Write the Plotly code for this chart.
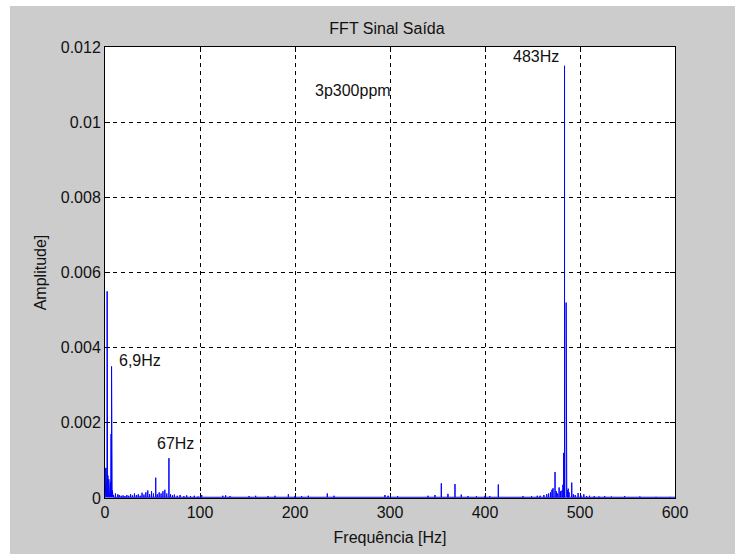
import plotly.graph_objects as go

# ---- data ----
spike_freqs = [
    0.0, 0.25, 0.5, 0.75, 1.0, 1.25, 1.5, 1.75, 2.0, 2.25, 2.5, 2.75, 3.0, 3.25, 3.5,
    3.75, 4.0, 4.25, 4.5, 4.75, 5.0, 5.25, 5.5, 5.75, 6.0, 6.4, 6.6, 6.9, 7.25, 7.5,
    7.75, 8.0, 8.5, 9.0,
    11, 13.5, 15, 17, 19, 21, 23, 25, 27, 29, 31, 33, 35, 37, 39, 41, 43, 45, 47, 49,
    51, 53.4, 55, 57, 59, 61, 63, 65, 67.3, 69, 71, 73, 76, 79, 83, 86, 90, 94, 98,
    101.8, 124, 127, 131.6, 151.6, 158.6, 171.6, 179, 193, 200, 207, 214, 234, 241,
    294.7, 298, 308, 340, 347.4, 354, 361, 368.4, 375, 382, 391, 400, 405, 414, 440,
    449, 455, 458, 462, 465, 467, 469, 470.5, 471.6, 473.7, 475, 476.5, 478, 479.5,
    481, 482, 482.8, 483.7, 485.4, 486.1, 486.8, 487.6, 488.5, 491.3, 493, 495, 498, 501,
    504, 507, 510, 515, 520, 526, 533, 547, 563, 580, 595,
]
spike_amps = [
    0.0008, 0.00078, 0.0008, 0.00075, 0.0008, 0.00072, 0.00078, 0.0008, 0.0007, 0.0055,
    0.00075, 0.0007, 0.0006, 0.0005, 0.00048, 0.00045, 0.0005, 0.00042, 0.0004, 0.00045,
    0.0004, 0.00038, 0.0004, 0.00042, 0.00045, 0.0017, 0.0006, 0.0035, 0.0004, 0.0003,
    0.0002, 0.00015, 0.0001, 0.00008,
    0.00012, 0.0001, 0.00008, 0.00006, 0.00007, 0.00005, 0.00008, 0.00006, 0.0001,
    0.00007, 0.00012, 0.00008, 0.0001, 0.00006, 0.00014, 0.00009, 0.00015, 0.0002,
    0.0001, 0.00018, 0.00012, 0.00054, 0.0001, 0.00015, 0.00012, 0.00018, 0.00022,
    0.00012, 0.00106, 0.0001, 0.00007, 0.00009, 0.00006, 0.00008, 0.00005, 0.00007,
    0.00005, 0.00006, 0.00004,
    0.00008, 0.00006, 0.00007, 0.00005, 0.00005, 0.00006, 0.00005, 0.00006, 0.0001,
    0.00005, 0.00005, 0.00006, 0.00012, 0.00006,
    0.00008, 0.00006, 0.00005, 0.00006, 0.00008, 0.00039, 0.00011, 0.00037, 0.00009,
    0.00005, 0.00005, 0.00006, 0.00005, 0.00036, 0.00005,
    0.00005, 0.00006, 0.00006, 0.00008, 0.0001, 0.00012, 0.00015, 0.00022, 0.00026,
    0.00069, 0.00018, 0.00012, 0.00028, 0.00018,
    0.0002, 0.00035, 0.0012, 0.0115, 0.0052, 0.0004, 0.0002, 0.00025, 0.00015, 0.00041,
    0.0001, 0.00008, 0.00013, 0.00007,
    0.0001, 0.00005, 0.00006, 0.00005, 0.00004, 0.00005, 0.00004, 0.00005, 0.00004,
    0.00003, 0.00003,
]
noise_floor = 0.00002
freq_range = [0, 600]
amp_range = [0, 0.012]
x_ticks = [0, 100, 200, 300, 400, 500, 600]
y_ticks = [0, 0.002, 0.004, 0.006, 0.008, 0.01, 0.012]
y_tick_labels = ["0", "0.002", "0.004", "0.006", "0.008", "0.01", "0.012"]

labels_text = ["483Hz", "3p300ppm", "6,9Hz", "67Hz"]
labels_x = [453.5, 261, 36.5, 74.5]
labels_y = [0.01175, 0.01083, 0.00367, 0.00146]

# ---- build the spectrum path: baseline with vertical spikes ----
xs, ys = [freq_range[0]], [noise_floor]
for f, a in sorted(zip(spike_freqs, spike_amps)):
    xs += [f, f, f]
    ys += [noise_floor, a, noise_floor]
xs.append(freq_range[1])
ys.append(noise_floor)

FONT = "Liberation Sans, Arial, sans-serif"
TXT = "#111111"

fig = go.Figure()
fig.add_trace(go.Scatter(x=xs, y=ys, mode="lines",
                         line=dict(color="#0000ff", width=1), hoverinfo="skip"))

for t, x, y in zip(labels_text, labels_x, labels_y):
    fig.add_annotation(x=x, y=y, text=t, showarrow=False, xanchor="center",
                       yanchor="middle", font=dict(family=FONT, size=16, color=TXT))

W, H = 735, 554
L, R, T, B = 105, 60, 47, 56
pw, ph = W - L - R, H - T - B

# white strips at left and top of the figure window
fig.add_shape(type="rect", xref="paper", yref="paper",
              x0=-L / pw, x1=(10 - L) / pw, y0=-B / ph, y1=(H - B) / ph,
              fillcolor="white", line_width=0, layer="above")
fig.add_shape(type="rect", xref="paper", yref="paper",
              x0=-L / pw, x1=(W - L) / pw, y0=(H - B - 6) / ph, y1=(H - B) / ph,
              fillcolor="white", line_width=0, layer="above")

axis_common = dict(
    showline=True, linecolor="black", linewidth=1, mirror="ticks",
    ticks="inside", ticklen=5, tickcolor="black",
    showgrid=True, gridcolor="black", gridwidth=1, griddash="4px,4px",
    zeroline=False, tickfont=dict(family=FONT, size=16, color=TXT),
)

fig.update_xaxes(range=freq_range, tickvals=x_ticks, layer="below traces",
                 title=dict(text="Frequência [Hz]", standoff=11,
                            font=dict(family=FONT, size=16, color=TXT)),
                 **axis_common)
fig.update_yaxes(range=amp_range, tickvals=y_ticks, ticktext=y_tick_labels,
                 title=dict(text="Amplitude]", standoff=10,
                            font=dict(family=FONT, size=16, color=TXT)),
                 **axis_common)

fig.update_layout(
    width=W, height=H,
    margin=dict(l=L, r=R, t=T, b=B, autoexpand=False),
    paper_bgcolor="#cccccc", plot_bgcolor="white",
    showlegend=False,
    title=dict(text="FFT Sinal Saída", x=(387 - L) / pw, xref="paper", xanchor="center",
               y=1 - 28 / H, yref="container", yanchor="middle",
               font=dict(family=FONT, size=16, color=TXT)),
)

fig.write_html("out.html")
